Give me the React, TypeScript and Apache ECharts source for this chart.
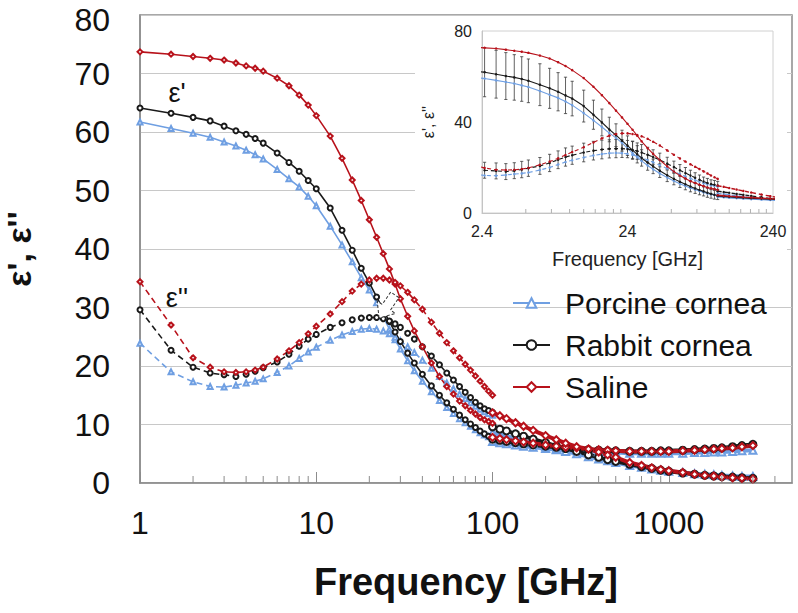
import React, { useEffect, useRef } from "react";
import * as echarts from "echarts";

const FONT = "'Liberation Sans', Arial, Helvetica, sans-serif";

// ---- Data ----
// Segment A: 1–100 GHz
const freqA = [1, 1.5, 2, 2.5, 3, 3.5, 4, 4.5, 5, 6, 7, 8, 9, 10, 12, 14, 16, 18, 20, 22, 24, 26, 28, 30, 33, 36, 40, 45, 50, 55, 60, 65, 70, 75, 80, 85, 90, 95, 100];
const salineEpsA = [73.7, 73.3, 72.9, 72.6, 72.3, 71.8, 71.3, 70.9, 70.4, 69.2, 67.9, 66.3, 64.6, 62.8, 59.3, 55.5, 51.8, 48.3, 45.0, 42.0, 39.2, 36.6, 34.0, 31.5, 28.5, 26.0, 23.3, 20.5, 18.2, 16.5, 15.2, 14.0, 13.2, 12.4, 11.8, 11.2, 10.8, 10.5, 10.2];
const salineEpsppA = [34.4, 27.0, 21.4, 19.8, 19.0, 18.9, 19.0, 19.3, 19.8, 21.2, 22.6, 24.0, 25.5, 26.8, 28.9, 31.0, 32.8, 34.0, 34.7, 35.0, 35.0, 34.7, 34.3, 33.7, 32.6, 31.3, 29.7, 27.5, 25.6, 24.0, 22.6, 21.4, 20.3, 19.3, 18.3, 17.4, 16.5, 15.7, 15.0];
const rabbitEpsA = [64.1, 63.2, 62.5, 61.9, 61.0, 60.2, 59.6, 58.9, 58.1, 56.4, 54.8, 53.3, 51.7, 50.3, 47.0, 43.2, 39.8, 36.7, 34.2, 31.8, 29.6, 27.6, 25.8, 24.2, 22.2, 20.5, 18.6, 16.6, 15.0, 13.7, 12.6, 11.6, 10.8, 10.1, 9.5, 8.9, 8.4, 8.0, 7.7];
const rabbitEpsppA = [29.6, 22.7, 19.8, 18.8, 18.5, 18.2, 18.6, 19.1, 19.7, 20.7, 22.0, 23.4, 24.6, 25.4, 26.6, 27.4, 27.9, 28.2, 28.3, 28.3, 28.1, 27.7, 27.2, 26.6, 25.6, 24.6, 23.3, 21.7, 20.2, 18.8, 17.6, 16.5, 15.5, 14.6, 13.8, 13.2, 12.7, 12.4, 12.1];
const porcineEpsA = [61.7, 60.6, 59.8, 59.1, 58.3, 57.6, 56.9, 56.1, 55.4, 53.6, 52.0, 50.6, 49.0, 47.4, 43.9, 40.7, 37.8, 35.1, 33.0, 30.8, 28.4, 26.3, 24.5, 22.9, 20.9, 19.2, 17.4, 15.6, 14.1, 12.9, 11.9, 11.0, 10.3, 9.7, 9.1, 8.6, 8.2, 7.9, 7.6];
const porcineEpsppA = [23.9, 19.0, 17.3, 16.5, 16.4, 16.7, 17.1, 17.4, 17.8, 18.9, 20.0, 21.3, 22.4, 23.2, 24.4, 25.3, 25.9, 26.3, 26.4, 26.3, 26.0, 25.5, 24.9, 24.3, 23.3, 22.3, 21.0, 19.6, 18.2, 17.1, 16.1, 15.2, 14.4, 13.7, 13.1, 12.6, 12.2, 11.9, 11.6];
const rabbitEpsErr = [11, 11, 11, 10.8, 10.5, 10.3, 10.0, 9.8, 9.6, 9.2, 8.8, 8.4, 8.0, 7.6, 7.0, 6.4, 5.9, 5.4, 5.0, 4.6, 4.3, 4.0, 3.8, 3.6, 3.4, 3.2, 3.0, 2.8, 2.6, 2.5, 2.4, 2.3, 2.2, 2.1, 2.0, 2.0, 1.9, 1.9, 1.8];
const rabbitEpsppErr = [3.5, 3.5, 3.5, 3.5, 3.5, 3.5, 3.5, 3.6, 3.6, 3.7, 3.8, 3.9, 4.0, 4.0, 4.1, 4.1, 4.1, 4.0, 4.0, 3.9, 3.8, 3.7, 3.6, 3.5, 3.3, 3.2, 3.0, 2.8, 2.6, 2.5, 2.4, 2.3, 2.2, 2.1, 2.0, 2.0, 1.9, 1.9, 1.8];

// Segment B: 100–3000 GHz
const freqB = [100, 110, 120, 135, 150, 170, 200, 230, 260, 300, 350, 400, 450, 500, 600, 700, 800, 900, 1000, 1200, 1400, 1600, 1800, 2000, 2300, 2600, 3000];
const salineEpsB = [7.8, 7.6, 7.4, 7.2, 7.0, 6.8, 6.5, 6.3, 6.1, 6.0, 5.8, 5.7, 5.6, 5.5, 5.4, 5.4, 5.4, 5.4, 5.4, 5.5, 5.6, 5.7, 5.8, 5.9, 6.0, 6.2, 6.4];
const salineEpsppB = [12.0, 11.5, 11.0, 10.3, 9.7, 9.0, 8.1, 7.4, 6.8, 6.2, 5.8, 5.3, 4.8, 4.4, 3.5, 3.0, 2.6, 2.3, 2.1, 1.8, 1.5, 1.3, 1.2, 1.0, 0.9, 0.8, 0.7];
const rabbitEpsB = [7.5, 7.3, 7.1, 6.9, 6.7, 6.5, 6.3, 6.1, 6.0, 5.8, 5.7, 5.6, 5.5, 5.5, 5.4, 5.4, 5.4, 5.5, 5.5, 5.6, 5.7, 5.8, 5.9, 6.0, 6.2, 6.4, 6.6];
const rabbitEpsppB = [9.6, 9.2, 8.9, 8.4, 8.0, 7.5, 6.9, 6.3, 5.9, 5.4, 4.8, 4.4, 4.0, 3.7, 3.2, 2.8, 2.5, 2.2, 2.0, 1.7, 1.5, 1.3, 1.2, 1.1, 1.0, 0.9, 0.8];
const porcineEpsB = [7.1, 6.9, 6.7, 6.5, 6.3, 6.1, 5.9, 5.7, 5.6, 5.5, 5.4, 5.3, 5.2, 5.2, 5.1, 5.1, 5.1, 5.1, 5.1, 5.1, 5.2, 5.2, 5.3, 5.3, 5.4, 5.5, 5.6];
const porcineEpsppB = [8.6, 8.3, 8.0, 7.6, 7.2, 6.8, 6.2, 5.8, 5.4, 5.0, 4.5, 4.1, 3.8, 3.5, 3.0, 2.7, 2.4, 2.2, 2.0, 1.8, 1.6, 1.5, 1.4, 1.3, 1.2, 1.1, 1.1];

// Axis tick positions
const mainMinorTicks = [2, 3, 4, 5, 6, 7, 8, 9, 20, 30, 40, 50, 60, 70, 80, 90, 200, 300, 400, 500, 600, 700, 800, 900, 2000, 3000, 4000];
const insetMinorTicks = [4.8, 7.2, 9.6, 12, 14.4, 16.8, 19.2, 21.6, 48, 72, 96, 120, 144, 168, 192, 216];

const legendNames = ["Porcine cornea", "Rabbit cornea", "Saline"];

const COLORS = { porcine: "#6f9fe2", rabbit: "#1a1a1a", saline: "#b8121b" };

const Y_MAX = 80;

const pairs = (xs: number[], ys: number[]) => xs.map((x, i) => [x, ys[i]]);

type Spec = {
  name: string;
  color: string;
  symbol: string;
  xs: number[];
  ys: number[];
  dashed: boolean;
  segB: boolean;
};

export default function App() {
  const ref = useRef<HTMLDivElement | null>(null);

  useEffect(() => {
    if (!ref.current) return;
    const chart = echarts.init(ref.current, null, { renderer: "svg" });

    const specs: Spec[] = [
      { name: legendNames[0], color: COLORS.porcine, symbol: "emptyTriangle", xs: freqA, ys: porcineEpsA, dashed: false, segB: false },
      { name: "Porcine ε''", color: COLORS.porcine, symbol: "emptyTriangle", xs: freqA, ys: porcineEpsppA, dashed: true, segB: false },
      { name: "Porcine ε' THz", color: COLORS.porcine, symbol: "emptyTriangle", xs: freqB, ys: porcineEpsB, dashed: false, segB: true },
      { name: "Porcine ε'' THz", color: COLORS.porcine, symbol: "emptyTriangle", xs: freqB, ys: porcineEpsppB, dashed: true, segB: true },
      { name: legendNames[1], color: COLORS.rabbit, symbol: "emptyCircle", xs: freqA, ys: rabbitEpsA, dashed: false, segB: false },
      { name: "Rabbit ε''", color: COLORS.rabbit, symbol: "emptyCircle", xs: freqA, ys: rabbitEpsppA, dashed: true, segB: false },
      { name: "Rabbit ε' THz", color: COLORS.rabbit, symbol: "emptyCircle", xs: freqB, ys: rabbitEpsB, dashed: false, segB: true },
      { name: "Rabbit ε'' THz", color: COLORS.rabbit, symbol: "emptyCircle", xs: freqB, ys: rabbitEpsppB, dashed: true, segB: true },
      { name: legendNames[2], color: COLORS.saline, symbol: "emptyDiamond", xs: freqA, ys: salineEpsA, dashed: false, segB: false },
      { name: "Saline ε''", color: COLORS.saline, symbol: "emptyDiamond", xs: freqA, ys: salineEpsppA, dashed: true, segB: false },
      { name: "Saline ε' THz", color: COLORS.saline, symbol: "emptyDiamond", xs: freqB, ys: salineEpsB, dashed: false, segB: true },
      { name: "Saline ε'' THz", color: COLORS.saline, symbol: "emptyDiamond", xs: freqB, ys: salineEpsppB, dashed: true, segB: true },
    ];

    const mainSeries = specs.map((s) => ({
      type: "line",
      name: s.name,
      xAxisIndex: 0,
      yAxisIndex: 0,
      data: pairs(s.xs, s.ys),
      symbol: s.symbol,
      symbolSize: s.segB ? 7 : 5,
      showSymbol: true,
      showAllSymbol: true,
      lineStyle: { color: s.color, width: s.segB ? 4 : 1.6, type: s.dashed && !s.segB ? [6, 4] : "solid" },
      itemStyle: { color: s.color, borderWidth: s.segB ? 1.5 : 1 },
      emphasis: { disabled: true },
      silent: true,
      z: 3,
    }));

    const insetSeries = specs.map((s) => ({
      type: "line",
      name: s.name + " inset",
      xAxisIndex: 1,
      yAxisIndex: 1,
      data: pairs(s.xs, s.ys),
      symbol: "circle",
      symbolSize: 2.5,
      showSymbol: true,
      showAllSymbol: true,
      lineStyle: { color: s.color, width: s.segB ? 1.4 : 1.1, type: s.dashed ? [4, 3] : "solid" },
      itemStyle: { color: s.color },
      emphasis: { disabled: true },
      silent: true,
      z: 20,
    }));

    const errRender = (params: any, api: any) => {
      const f = api.value(0);
      const v = api.value(1);
      const e = api.value(2);
      const top = api.coord([f, v + e]);
      const bot = api.coord([f, v - e]);
      const c = 1.6;
      const st = { stroke: "#3a3a3a", lineWidth: 0.8 };
      return {
        type: "group",
        children: [
          { type: "line", shape: { x1: top[0], y1: top[1], x2: bot[0], y2: bot[1] }, style: st },
          { type: "line", shape: { x1: top[0] - c, y1: top[1], x2: top[0] + c, y2: top[1] }, style: st },
          { type: "line", shape: { x1: bot[0] - c, y1: bot[1], x2: bot[0] + c, y2: bot[1] }, style: st },
        ],
      };
    };

    const errSeries = [
      { vals: rabbitEpsA, err: rabbitEpsErr },
      { vals: rabbitEpsppA, err: rabbitEpsppErr },
    ].map((d, k) => ({
      type: "custom",
      name: "err" + k,
      xAxisIndex: 1,
      yAxisIndex: 1,
      silent: true,
      clip: true,
      z: 19,
      data: freqA.map((f, i) => [f, d.vals[i], d.err[i]]).filter((p) => p[0] >= 2.4),
      encode: { x: 0, y: 1 },
      renderItem: errRender,
    }));

    const tickSeries = (ticks: number[], xi: number, len: number, color: string) => ({
      type: "custom",
      name: "ticks" + xi,
      xAxisIndex: xi,
      yAxisIndex: xi,
      silent: true,
      z: xi === 0 ? 4 : 21,
      data: ticks.map((t) => [t, 0]),
      encode: { x: 0, y: 1 },
      renderItem: (params: any, api: any) => {
        const p = api.coord([api.value(0), 0]);
        return {
          type: "line",
          shape: { x1: p[0], y1: p[1], x2: p[0], y2: p[1] - len },
          style: { stroke: color, lineWidth: 1 },
        };
      },
    });

    const option: any = {
      animation: false,
      backgroundColor: "#ffffff",
      textStyle: { fontFamily: FONT },
      grid: [
        { left: 140, right: 6, top: 15, bottom: 130, containLabel: false, outerBoundsMode: "none", show: true, borderColor: "#8c8c8c", borderWidth: 1.5, backgroundColor: "transparent" },
        { left: 482, top: 31, width: 291, height: 182, containLabel: false, outerBoundsMode: "none", show: true, borderColor: "#d0d0d0", borderWidth: 1, backgroundColor: "#ffffff", z: 15 },
      ],
      xAxis: [
        {
          type: "log",
          gridIndex: 0,
          min: 1,
          max: 5000,
          logBase: 10,
          interval: 1,
          axisLine: { lineStyle: { color: "#8c8c8c", width: 1.5 } },
          axisTick: { show: true, inside: true, length: 11, lineStyle: { color: "#8c8c8c" } },
          axisLabel: {
            fontSize: 32,
            color: "#111",
            fontFamily: FONT,
            margin: 24,
            showMaxLabel: false,
            formatter: (v: number) => String(Math.round(v)),
          },
          splitLine: { show: false },
          name: "Frequency [GHz]",
          nameLocation: "middle",
          nameGap: 80,
          nameTextStyle: { fontSize: 38, fontWeight: "bold", color: "#111", fontFamily: FONT },
        },
        {
          type: "log",
          gridIndex: 1,
          min: 2.4,
          max: 240,
          logBase: 10,
          interval: 1,
          z: 16,
          axisLine: { lineStyle: { color: "#c4c4c4" } },
          axisTick: { show: false },
          axisLabel: {
            fontSize: 16,
            color: "#222",
            fontFamily: FONT,
            margin: 10,
            formatter: (v: number) => String(parseFloat(Number(v).toPrecision(3))),
          },
          splitLine: { show: false },
          name: "Frequency [GHz]",
          nameLocation: "middle",
          nameGap: 36,
          nameTextStyle: { fontSize: 20, color: "#222", fontFamily: FONT },
        },
      ],
      yAxis: [
        {
          type: "value",
          gridIndex: 0,
          min: 0,
          max: Y_MAX,
          interval: 10,
          axisLine: { show: true, lineStyle: { color: "#8c8c8c", width: 1.5 } },
          axisTick: { show: false },
          axisLabel: {
            fontSize: 32,
            color: "#111",
            fontFamily: FONT,
            margin: 30,
            formatter: (v: number) => (v === Y_MAX ? `{t|${v}}` : `${v}`),
            rich: { t: { fontSize: 32, color: "#111", fontFamily: FONT, padding: [9, 0, 0, 0] } },
          },
          splitLine: { show: true, lineStyle: { color: "#c8c8c8", width: 1.2 } },
          name: "ε', ε''",
          nameLocation: "middle",
          nameGap: 104,
          nameRotate: 90,
          nameTextStyle: { fontSize: 34, fontWeight: "bold", color: "#111", fontFamily: FONT },
        },
        {
          type: "value",
          gridIndex: 1,
          min: 0,
          max: 80,
          interval: 40,
          z: 16,
          axisLine: { show: true, lineStyle: { color: "#c4c4c4" } },
          axisTick: { show: false },
          axisLabel: { fontSize: 16, color: "#222", fontFamily: FONT, margin: 10 },
          splitLine: { show: false },
          name: "ε', ε''",
          nameLocation: "middle",
          nameGap: 46,
          nameRotate: 90,
          nameTextStyle: { fontSize: 16, color: "#222", fontFamily: FONT },
        },
      ],
      legend: {
        data: legendNames,
        orient: "vertical",
        left: 507,
        top: 283,
        itemWidth: 37,
        itemHeight: 12,
        itemGap: 12,
        selectedMode: false,
        textStyle: { fontSize: 30, color: "#111", fontFamily: FONT, padding: [0, 0, 0, 10] },
        z: 12,
      },
      graphic: [
        { type: "rect", z: 10, silent: true, shape: { x: 415, y: 17, width: 372, height: 251 }, style: { fill: "#ffffff" } },
        { type: "text", z: 12, x: 177, y: 93, style: { text: "ε'", fontSize: 27, fontFamily: FONT, fill: "#111", align: "center", verticalAlign: "middle" } },
        { type: "text", z: 12, x: 177, y: 298, style: { text: "ε''", fontSize: 27, fontFamily: FONT, fill: "#111", align: "center", verticalAlign: "middle" } },
        {
          type: "polygon",
          z: 12,
          x: 379,
          y: 318,
          rotation: -0.6,
          shape: { points: [[0, 0], [-11, -13], [-5, -13], [-5, -28], [5, -28], [5, -13], [11, -13]] },
          style: { fill: "#ffffff", stroke: "#333", lineWidth: 1, lineDash: [3, 2] },
        },
      ],
      series: [
        ...mainSeries,
        tickSeries(mainMinorTicks, 0, 7, "#8c8c8c"),
        ...errSeries,
        ...insetSeries,
        tickSeries(insetMinorTicks, 1, 4, "#b0b0b0"),
      ],
    };

    chart.setOption(option);
    return () => chart.dispose();
  }, []);

  return <div ref={ref} style={{ position: "absolute", left: 0, top: 0, width: 798, height: 613 }} />;
}
